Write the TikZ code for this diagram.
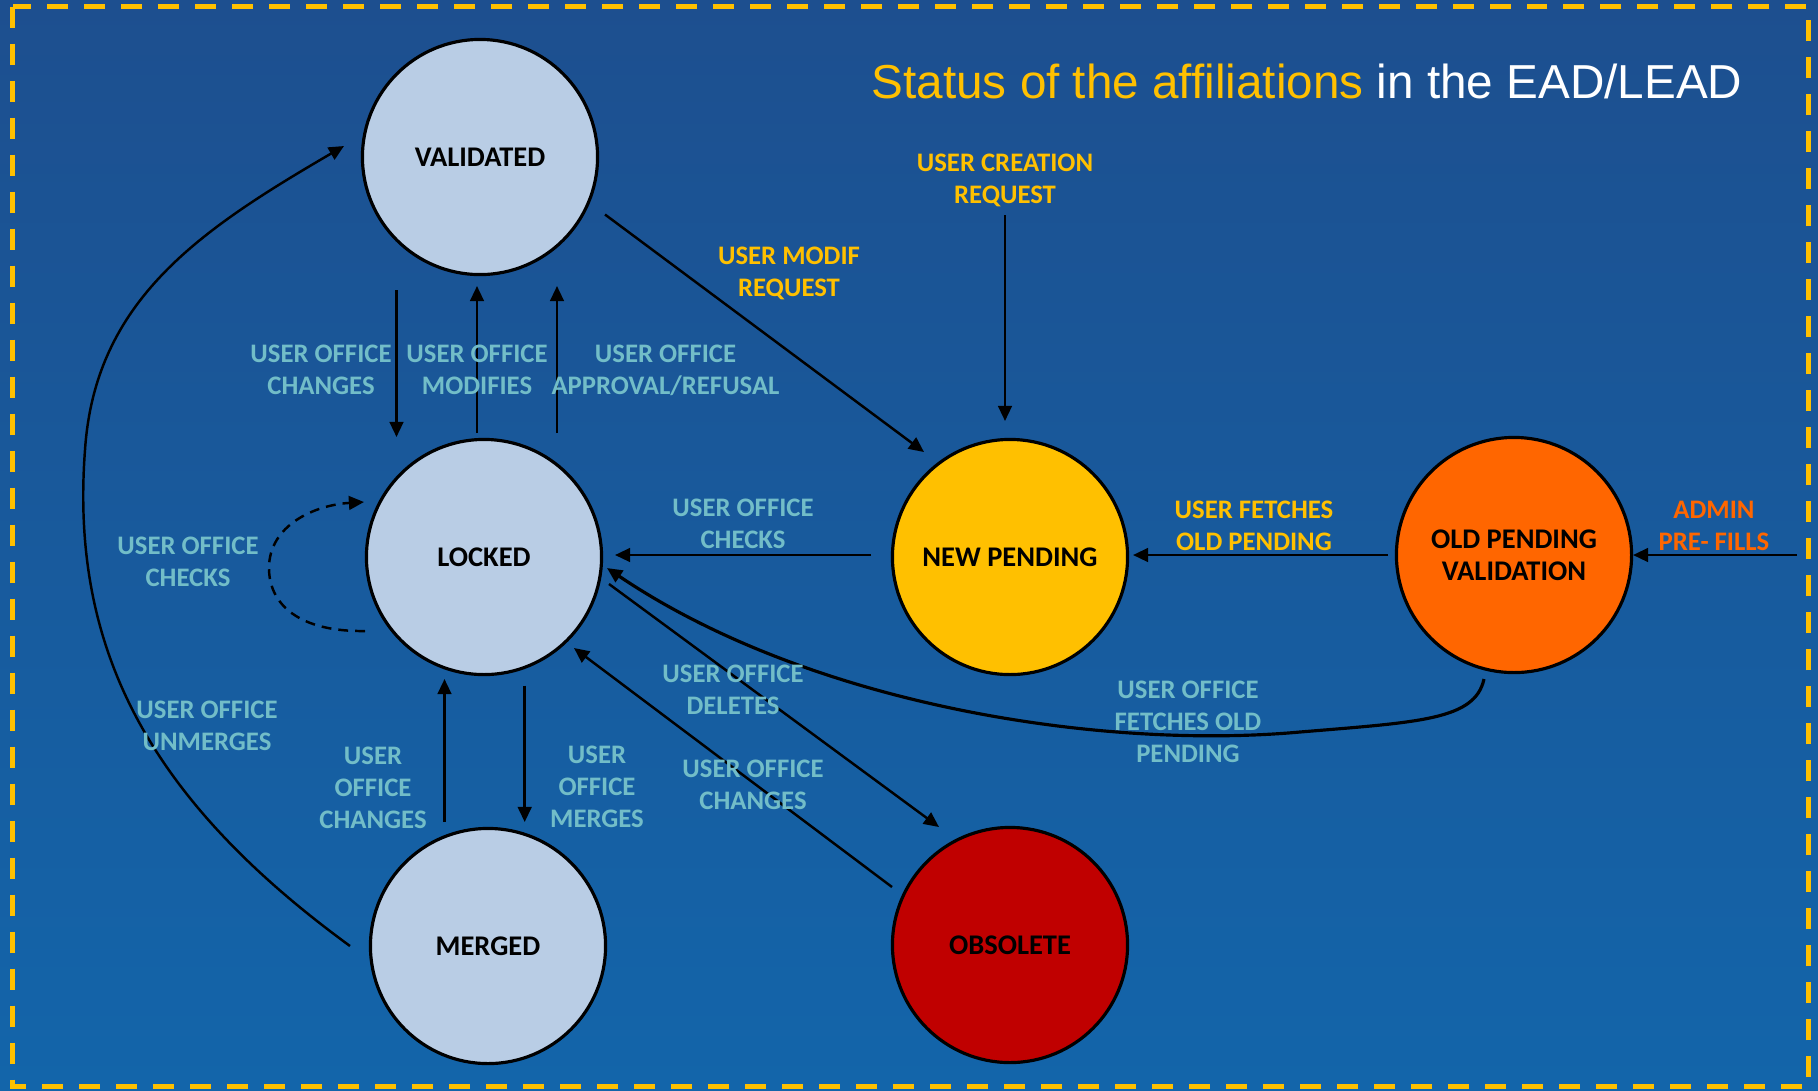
\documentclass[tikz,border=0pt]{standalone}
\usepackage{fontspec}
\setmainfont{Carlito}
\newfontfamily\titlefont{Liberation Sans}
\usetikzlibrary{arrows.meta,calc}
\definecolor{bgtop}{RGB}{29,79,143}
\definecolor{bgbot}{RGB}{19,101,170}
\definecolor{gold}{RGB}{255,192,0}
\definecolor{orng}{RGB}{255,102,0}
\definecolor{dred}{RGB}{192,0,0}
\definecolor{lblue}{RGB}{185,205,229}
\definecolor{lbltxt}{RGB}{114,189,200}
\tikzset{
  state/.style={circle, draw=black, line width=0.9pt, minimum size=2.35cm, inner sep=0pt,
    font=\bfseries\fontsize{8.1}{9.1}\selectfont, align=center, text=black},
  lbl/.style={font=\bfseries\fontsize{7.6}{9.1}\selectfont, align=center, text=lbltxt, inner sep=0pt},
  conn/.style={line width=0.7pt, -{Triangle[length=4.3pt,width=3.9pt]}},
}
\begin{document}
\begin{tikzpicture}[x=0.01cm, y=-0.01cm]
\useasboundingbox (0,0) rectangle (1818,1090);
\shade[top color=bgtop, bottom color=bgbot] (0,0) rectangle (1818,1090);
\draw[gold, line width=1.28pt, dash pattern=on 5.97pt off 4.55pt] (12.5,6.7) rectangle (1808.7,1086.7);

% title
\node[anchor=base west, inner sep=0pt, font=\titlefont\fontsize{13.55}{16}\selectfont] (title) at (871,98)
  {\textcolor{gold}{Status of the affiliations} \textcolor{white}{in the EAD/LEAD}};

% states
\node[state, fill=lblue] (V) at (480,157) {VALIDATED};
\node[state, fill=lblue] (L) at (484,557) {LOCKED};
\node[state, fill=lblue] (M) at (488,946) {MERGED};
\node[state, fill=gold] (NP) at (1010,557) {NEW PENDING};
\node[state, fill=orng] (OP) at (1514,555) {OLD PENDING\\VALIDATION};
\node[state, fill=dred] (OB) at (1010,945) {OBSOLETE};

% connectors
\draw[conn] ($(V)+(125,57.5)$) -- ($(NP)+(-86,-105)$);
\coordinate (crs) at (1005,215);
\draw[conn] (crs) -- ($(NP)+(-5,-136)$);
\draw[conn] ($(V)+(-83.5,133)$) -- ($(L)+(-87.5,-120)$);
\draw[conn] ($(L)+(-7,-124)$) -- ($(V)+(-3,129)$);
\draw[conn] ($(L)+(73,-124)$) -- ($(V)+(77,129)$);
\draw[conn] ($(NP)+(-139,-2)$) -- ($(L)+(131,-2)$);
\draw[conn] ($(OP)+(-126,0)$) -- ($(NP)+(123,-2)$);
\coordinate (ads) at (1797,555);
\draw[conn] (ads) -- ($(OP)+(119,0)$);
\draw[conn, dash pattern=on 2.8pt off 2pt] ($(L)+(-119,74)$) .. controls (300,632) and (269,605) .. (269,568)
  .. controls (269,525) and (315,505) .. ($(L)+(-120,-55)$);
\draw[conn] ($(M)+(-138,0)$) .. controls (150,800) and (70,650) .. (85,450)
  .. controls (95,300) and (200,230) .. ($(V)+(-136,-11)$);
\draw[conn] ($(M)+(-43.5,-124)$) -- ($(L)+(-39.5,122)$);
\draw[conn] ($(L)+(40.7,128.5)$) -- ($(M)+(36.7,-124)$);
\draw[conn] ($(L)+(125,27)$) -- ($(OB)+(-71,-118)$);
\draw[conn] ($(OB)+(-118,-58)$) -- ($(L)+(90,91)$);
\draw[conn, line width=0.9pt] ($(OP)+(-30,124)$) .. controls (1475,720) and (1420,722) .. (1300,732)
  .. controls (1100,750) and (810,705) .. ($(L)+(123,11)$);

% labels
\node[lbl, text=gold] (l1) at (789,273) {USER MODIF\\REQUEST};
\node[lbl, text=gold] (l2) at (1005,180) {USER CREATION\\REQUEST};
\node[lbl] (l3) at (321,370) {USER OFFICE\\CHANGES};
\node[lbl] (l4) at (477,370) {USER OFFICE\\MODIFIES};
\node[lbl] (l5) at (665.5,370) {USER OFFICE\\APPROVAL/REFUSAL};
\node[lbl] (l6) at (743,523.5) {USER OFFICE\\CHECKS};
\node[lbl, text=gold] (l7) at (1254,526) {USER FETCHES\\OLD PENDING};
\node[lbl, text=orng] (l8) at (1714,526) {ADMIN\\PRE- FILLS};
\node[lbl] (l9) at (188,562) {USER OFFICE\\CHECKS};
\node[lbl] (l10) at (207,726) {USER OFFICE\\UNMERGES};
\node[lbl] (l11) at (373,788) {USER\\OFFICE\\CHANGES};
\node[lbl] (l12) at (597,787) {USER\\OFFICE\\MERGES};
\node[lbl] (l13) at (733,689.5) {USER OFFICE\\DELETES};
\node[lbl] (l14) at (753,785) {USER OFFICE\\CHANGES};
\node[lbl] (l15) at (1188,721.5) {USER OFFICE\\FETCHES OLD\\PENDING};
\end{tikzpicture}
\end{document}
